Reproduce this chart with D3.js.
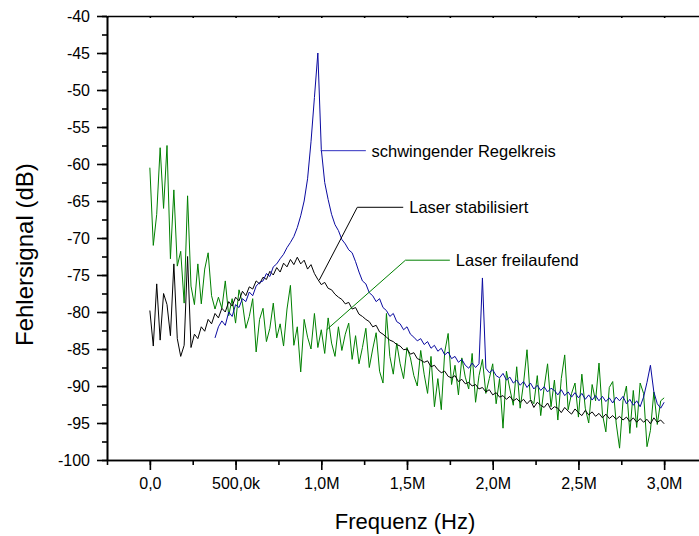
<!DOCTYPE html>
<html lang="de">
<head>
    <meta charset="UTF-8">
    <title>Fehlersignal vs Frequenz</title>
    <script src="https://d3js.org/d3.v7.min.js"></script>
    <style>
        body { margin: 0; background: #fff; }
        svg { display: block; font-family: "Liberation Sans", Arial, sans-serif; }
        .axis path, .axis line { stroke: #000; stroke-width: 1.6px; }
        .axis text { font-size: 16px; fill: #000; font-family: "Liberation Sans", Arial, sans-serif; }
        .trace { fill: none; stroke-width: 1px; stroke-linejoin: round; }
        .note { font-size: 16.5px; fill: #000; }
    </style>
</head>
<body>
<svg width="699" height="536"></svg>
<script>
// data, 20 kHz between samples
const freqStepHz = 20000;

const xTickValues = [0, 500000, 1000000, 1500000, 2000000, 2500000, 3000000];
const xTickLabels = ["0,0", "500,0k", "1,0M", "1,5M", "2,0M", "2,5M", "3,0M"];
const yTickValues = [-100, -95, -90, -85, -80, -75, -70, -65, -60, -55, -50, -45, -40];

// Laser stabilisiert (black), 0 .. 3.0 MHz
const stabilisiertStart = 0;
const stabilisiert = [
  -79.8, -84.6, -76.2, -83.8, -77.5, -79.0, -83.2, -73.5, -83.6, -86.0,
  -84.5, -72.5, -84.8, -83.0, -83.6, -82.0, -82.6, -81.0, -81.6, -80.2,
  -80.8, -79.5, -80.0, -78.6, -79.2, -78.0, -78.5, -77.2, -77.8, -76.6,
  -76.9, -75.8, -76.2, -75.3, -75.6, -74.5, -75.0, -74.0, -74.6, -73.4,
  -73.9, -72.9, -73.6, -72.6, -73.5, -73.0, -74.2, -73.6, -74.8, -75.6,
  -76.3, -76.0, -76.8, -77.0, -77.6, -78.0, -78.3, -78.9, -78.7, -79.6,
  -79.4, -80.3, -80.6, -81.0, -81.3, -82.0, -81.8, -82.7, -83.0, -83.4,
  -83.8, -84.0, -84.4, -84.6, -85.1, -85.0, -85.7, -85.5, -86.3, -86.5,
  -86.8, -86.6, -87.4, -87.2, -87.8, -88.2, -88.0, -88.7, -88.9, -88.6,
  -89.4, -89.1, -89.7, -89.5, -90.0, -89.8, -90.4, -90.2, -90.8, -90.5,
  -91.2, -90.9, -91.5, -91.3, -91.8, -91.4, -92.0, -91.7, -92.2, -91.8,
  -92.4, -91.9, -92.9, -92.2, -92.6, -92.9, -92.3, -93.2, -92.8, -93.0,
  -93.6, -92.9, -93.4, -93.8, -93.1, -93.6, -94.0, -93.3, -93.9, -93.5,
  -94.1, -93.7, -94.3, -93.8, -94.4, -94.0, -94.5, -94.1, -94.6, -94.2,
  -94.8, -94.3, -94.9, -94.4, -94.9, -94.5, -95.1, -94.3, -94.9, -94.6,
  -95.1
];

// schwingender Regelkreis (blue), 0.38 .. 3.0 MHz
const schwingendStart = 380000;
const schwingend = [
  -83.5, -82.0, -81.2, -81.8, -80.0, -80.6, -79.0, -79.4, -78.2, -78.6,
  -77.3, -77.8, -76.5, -76.0, -75.8, -74.8, -75.2, -73.9, -73.5, -72.8,
  -72.2, -71.3, -70.6, -69.8, -68.6, -67.0, -65.0, -62.0, -57.0, -51.0,
  -45.0, -58.0, -62.5, -64.8, -66.8, -68.2, -69.0, -70.2, -70.8, -71.6,
  -72.0, -73.2, -74.6, -75.8, -76.2, -77.4, -77.8, -78.6, -78.2, -79.4,
  -79.8, -80.6, -80.2, -81.3, -81.6, -82.4, -82.0, -83.0, -83.4, -83.9,
  -83.6, -84.4, -84.0, -84.9, -84.5, -85.3, -84.9, -85.8, -85.4, -86.3,
  -86.0, -86.8, -86.4, -87.2, -87.6, -86.9, -87.5, -87.0, -75.4, -87.6,
  -88.2, -87.8, -88.6, -88.9, -88.3, -89.2, -88.8, -89.6, -89.2, -89.9,
  -89.4, -90.2, -89.6, -90.4, -89.9, -90.6, -90.1, -90.8, -90.3, -90.6,
  -91.2, -90.5, -91.3, -90.8, -91.5, -90.9, -91.6, -91.0, -91.8, -91.2,
  -91.9, -91.3, -92.0, -91.4, -92.1, -91.6, -92.3, -91.5, -92.0, -91.4,
  -92.4, -91.8, -92.6, -92.0, -92.8, -91.5, -89.5, -87.2, -90.8, -92.4,
  -93.0, -92.2
];

// Laser freilaufend (green), 0 .. 3.0 MHz
const freilaufendStart = 0;
const freilaufend = [
  -60.5, -71.0, -66.8, -57.8, -66.0, -57.5, -72.8, -63.5, -73.8, -71.8,
  -78.8, -64.3, -76.5, -79.0, -73.5, -78.9, -74.2, -72.0, -77.8, -79.6,
  -78.0, -79.5, -75.8, -80.5, -78.2, -81.5, -77.0, -78.8, -82.2, -80.6,
  -78.2, -85.4, -81.0, -79.5, -84.0, -82.2, -78.8, -83.5, -81.6, -84.6,
  -79.6, -76.4, -84.5, -82.0, -88.1, -81.0, -83.4, -85.0, -80.2, -84.8,
  -82.4, -85.6, -80.8, -84.2, -86.0, -82.0, -85.2, -83.0, -81.5, -86.4,
  -83.2, -87.0, -84.8, -82.2, -87.5, -85.0, -82.8, -88.0, -89.6, -80.2,
  -86.0, -88.4, -84.2, -87.0, -89.0, -84.8, -86.2, -88.6, -90.0, -85.2,
  -88.4, -91.0, -86.0, -92.8, -89.0, -93.2, -85.4, -82.9, -89.8, -87.2,
  -91.2, -86.2, -88.8, -90.4, -85.6, -92.2, -88.6, -86.4, -91.0, -89.0,
  -87.0, -92.4, -89.0, -95.7, -88.0, -90.4, -92.6, -87.4, -93.0, -89.6,
  -85.1, -91.8, -92.4, -88.6, -94.0, -90.2, -87.0, -92.8, -89.2, -94.6,
  -89.0, -85.8, -93.2, -91.0, -89.6, -94.2, -88.4, -93.0, -95.0, -89.8,
  -92.0, -86.9, -93.8, -96.2, -90.2, -89.4, -95.0, -98.4, -92.0, -90.0,
  -96.4, -90.6, -95.6, -89.6, -91.0, -98.2, -96.0, -90.8, -95.2, -92.0,
  -91.6
];

const svg = d3.select("svg");

// plot frame runs past the right edge of the picture, like the original
const x = d3.scaleLinear().domain([-250000, 3250000]).range([107, 707]);
const y = d3.scaleLinear().domain([-100, -40]).range([460, 16]);

function toPoints(start, values) {
    return values.map((v, i) => [start + i * freqStepHz, v]);
}

const line = d3.line().x(d => x(d[0])).y(d => y(d[1]));

// minor ticks first
const xMinor = d3.range(-250000, 3250001, 250000);
const yMinor = d3.range(-100, -39, 2.5);

svg.append("g").attr("class", "axis")
    .attr("transform", "translate(0,460)")
    .call(d3.axisBottom(x).tickValues(xMinor).tickSize(5).tickSizeOuter(0).tickFormat(""));
svg.append("g").attr("class", "axis")
    .attr("transform", "translate(0,460)")
    .call(d3.axisBottom(x).tickValues(xTickValues).tickSize(10).tickSizeOuter(0).tickPadding(8)
        .tickFormat((d, i) => xTickLabels[i]));

svg.append("g").attr("class", "axis")
    .attr("transform", "translate(107,0)")
    .call(d3.axisLeft(y).tickValues(yMinor).tickSize(5).tickSizeOuter(0).tickFormat(""));
svg.append("g").attr("class", "axis")
    .attr("transform", "translate(107,0)")
    .call(d3.axisLeft(y).tickValues(yTickValues).tickSize(10).tickSizeOuter(0).tickPadding(7)
        .tickFormat(d => d));

// top frame with tiny inward ticks
svg.append("g").attr("class", "axis")
    .attr("transform", "translate(0,16)")
    .call(d3.axisTop(x).tickValues(xMinor).tickSize(-2).tickSizeOuter(0).tickFormat(""));

// traces: green under black under blue
svg.append("path").attr("class", "trace")
    .attr("stroke", "#008000")
    .attr("d", line(toPoints(freilaufendStart, freilaufend)));
svg.append("path").attr("class", "trace")
    .attr("stroke", "#000000")
    .attr("d", line(toPoints(stabilisiertStart, stabilisiert)));
svg.append("path").attr("class", "trace")
    .attr("stroke", "#0a0aa0")
    .attr("d", line(toPoints(schwingendStart, schwingend)));

// leader lines + labels (placed in data units)
const notes = [
    { text: "schwingender Regelkreis", color: "#3030c0",
      pts: [[996000, -58.2], [1260000, -58.2]], tx: 1293000 },
    { text: "Laser stabilisiert", color: "#000000",
      pts: [[988000, -75.7], [1210000, -65.85], [1478000, -65.85]], tx: 1513000 },
    { text: "Laser freilaufend", color: "#008000",
      pts: [[1031000, -82.4], [1491000, -73.0], [1750000, -73.0]], tx: 1785000 }
];

notes.forEach(n => {
    svg.append("path").attr("class", "trace")
        .attr("stroke", n.color)
        .attr("d", line(n.pts));
    const last = n.pts[n.pts.length - 1];
    svg.append("text").attr("class", "note")
        .attr("x", x(n.tx))
        .attr("y", y(last[1]) + 6)
        .text(n.text);
});

// axis titles
svg.append("text")
    .attr("x", 405).attr("y", 529)
    .attr("text-anchor", "middle")
    .style("font-size", "22px")
    .text("Frequenz (Hz)");

svg.append("text")
    .attr("transform", "translate(33,346) rotate(-90)")
    .attr("text-anchor", "start")
    .style("font-size", "24px")
    .text("Fehlersignal (dB)");
</script>
</body>
</html>
